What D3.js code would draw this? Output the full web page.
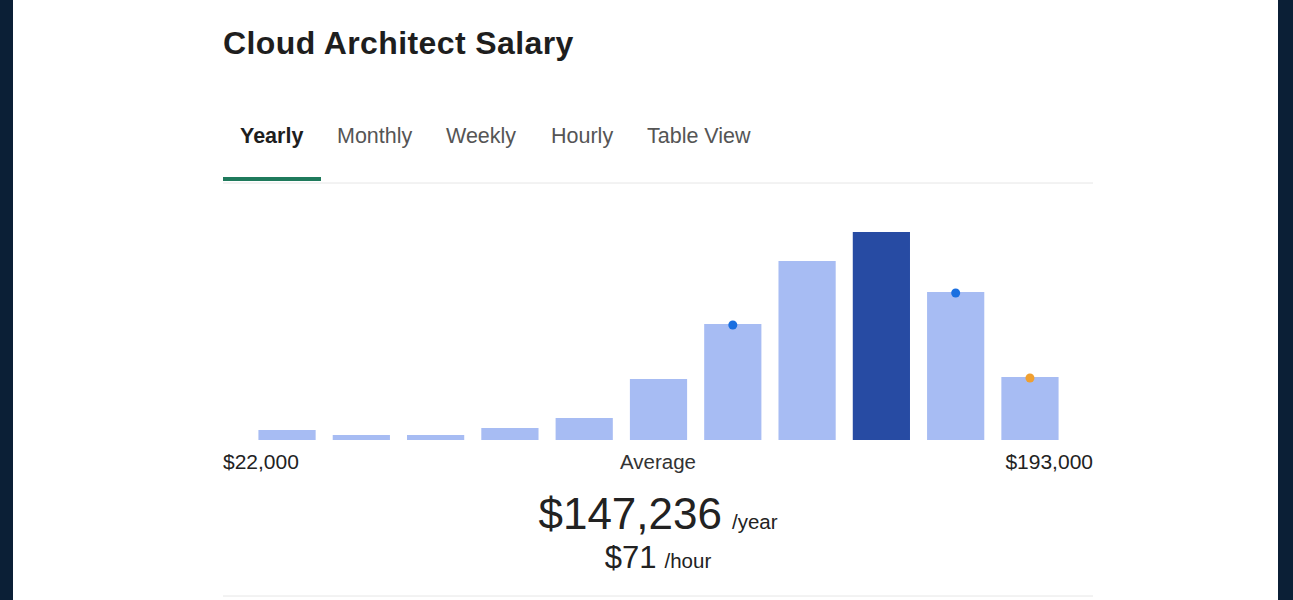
<!DOCTYPE html>
<html><head><meta charset="utf-8">
<script src="https://cdn.jsdelivr.net/npm/d3@7"></script>
<style>
body{margin:0;background:#0b1f36;}
svg{display:block;}
</style></head>
<body>
<svg id="chart" width="1293" height="600"></svg>
<script>
const bins = ["b1","b2","b3","b4","b5","b6","b7","b8","b9","b10","b11"];
const counts = [10, 5, 5, 12, 22, 61, 116, 179, 208, 148, 63];
const highlight = "b9";
const markers = [{bin: "b7", color: "#1a6fe0"}, {bin: "b10", color: "#1a6fe0"}, {bin: "b11", color: "#f0a030"}];
const tabs = ["Yearly", "Monthly", "Weekly", "Hourly", "Table View"];
const tabX = [240, 337, 446, 551, 647];
const minLabel = "$22,000", maxLabel = "$193,000";
const avgYear = "$147,236", avgHour = "$71";

const f = "Arial, Liberation Sans";
const svg = d3.select("#chart");
svg.append("rect").attr("x", 13).attr("y", 0).attr("width", 1265).attr("height", 600).attr("fill", "#fff");

svg.append("text").attr("x", 223).attr("y", 54).text("Cloud Architect Salary")
  .attr("font-family", f).attr("font-weight", "bold").attr("font-size", 32).attr("letter-spacing", 0.4).attr("fill", "#1e1e1e");

tabs.forEach((t, i) => {
  svg.append("text").attr("x", tabX[i]).attr("y", 143).text(t)
    .attr("font-family", f).attr("font-size", 21.5)
    .attr("font-weight", i === 0 ? "bold" : "normal")
    .attr("fill", i === 0 ? "#1e1e1e" : "#555");
});
svg.append("line").attr("x1", 223).attr("x2", 1093).attr("y1", 183).attr("y2", 183).attr("stroke", "#e6e6e6");
svg.append("rect").attr("x", 223).attr("y", 177).attr("width", 98).attr("height", 4).attr("fill", "#1f7a5c");

const x = d3.scaleBand().domain(bins).range([251, 1066]).paddingInner(0.23).paddingOuter(0.1);
const y = d3.scaleLinear().domain([0, 208]).range([440, 232]);

svg.selectAll(".bar").data(bins).join("rect")
  .attr("x", d => x(d)).attr("width", x.bandwidth())
  .attr("y", (d, i) => y(counts[i])).attr("height", (d, i) => 440 - y(counts[i]))
  .attr("fill", d => d === highlight ? "#274ba3" : "#a7bcf3");

markers.forEach(m => {
  const i = bins.indexOf(m.bin);
  svg.append("circle").attr("cx", x(m.bin) + x.bandwidth() / 2).attr("cy", y(counts[i]) + 1)
    .attr("r", 4.5).attr("fill", m.color);
});

svg.append("text").attr("x", 223).attr("y", 469).text(minLabel).attr("font-family", f).attr("font-size", 21).attr("fill", "#222");
svg.append("text").attr("x", 1093).attr("y", 469).attr("text-anchor", "end").text(maxLabel).attr("font-family", f).attr("font-size", 21).attr("fill", "#222");
svg.append("text").attr("x", 658).attr("y", 469).attr("text-anchor", "middle").text("Average").attr("font-family", f).attr("font-size", 20.5).attr("fill", "#333");

const t1 = svg.append("text").attr("x", 658).attr("y", 529).attr("text-anchor", "middle").attr("font-family", f).attr("fill", "#222");
t1.append("tspan").attr("font-size", 44).text(avgYear);
t1.append("tspan").attr("font-size", 20.5).attr("dx", 10).text("/year");
const t2 = svg.append("text").attr("x", 658).attr("y", 568).attr("text-anchor", "middle").attr("font-family", f).attr("fill", "#222");
t2.append("tspan").attr("font-size", 31).text(avgHour);
t2.append("tspan").attr("font-size", 20.5).attr("dx", 8).text("/hour");

svg.append("line").attr("x1", 223).attr("x2", 1093).attr("y1", 596).attr("y2", 596).attr("stroke", "#e6e6e6");
</script>
</body></html>
